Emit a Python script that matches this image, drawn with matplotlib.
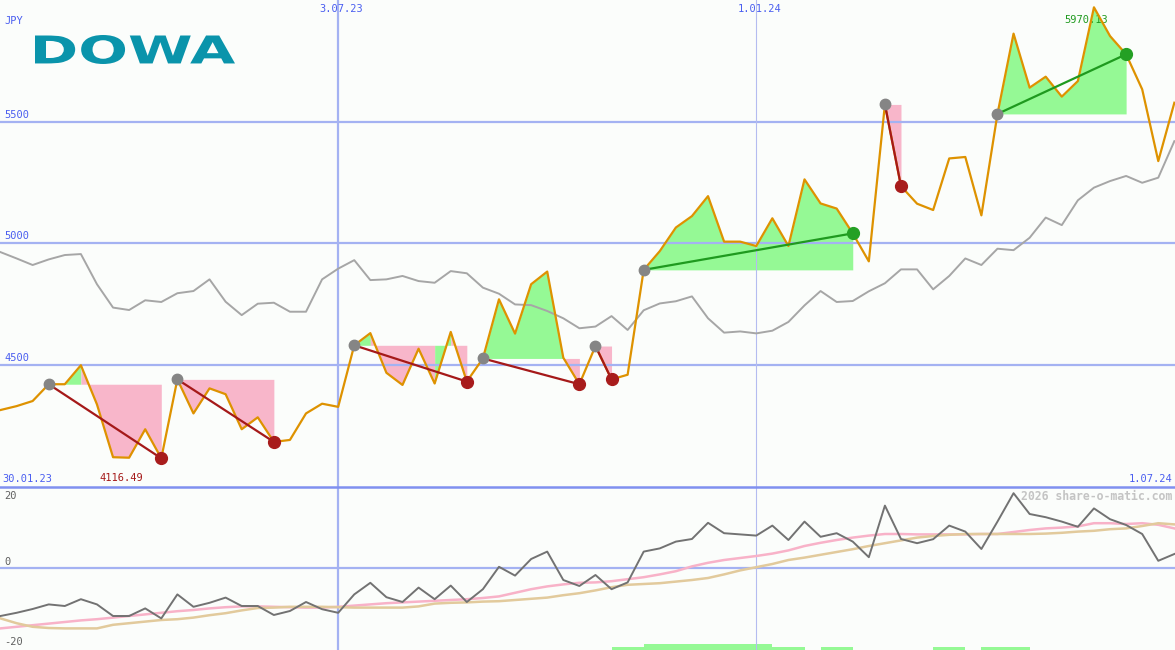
import matplotlib
matplotlib.use("Agg")
import matplotlib.pyplot as plt
import matplotlib.transforms as mtransforms
from matplotlib.lines import Line2D
from matplotlib.patches import PathPatch
from matplotlib.textpath import TextPath
from matplotlib.font_manager import FontProperties
import numpy as np

# weekly closes, first week = 6.02.23, last week = 1.07.24
price = [4315, 4331, 4352, 4421, 4421, 4499, 4338, 4121, 4119, 4236,
         4116.49, 4441, 4301, 4404, 4380, 4236, 4285, 4184, 4192, 4301,
         4341, 4328, 4581, 4631, 4468, 4418, 4567, 4424, 4636, 4432,
         4527, 4770, 4629, 4832, 4884, 4530, 4421, 4578, 4441, 4460,
         4891, 4968, 5065, 5112, 5194, 5007, 5007, 4989, 5103, 4989,
         5263, 5164, 5143, 5041, 4926, 5571, 5235, 5163, 5137, 5349,
         5355, 5115, 5532, 5862, 5640, 5685, 5603, 5667, 5970.13, 5852,
         5777, 5633, 5338, 5578]

# comparison index, scaled to the price
bench = [4964, 4938, 4911, 4934, 4952, 4956, 4832, 4736, 4726, 4766,
         4759, 4795, 4804, 4852, 4760, 4705, 4752, 4756, 4719, 4719,
         4852, 4896, 4931, 4849, 4852, 4866, 4845, 4838, 4886, 4877,
         4818, 4793, 4749, 4746, 4722, 4692, 4651, 4658, 4701, 4644,
         4725, 4753, 4762, 4782, 4692, 4633, 4638, 4630, 4641, 4677,
         4745, 4804, 4759, 4763, 4803, 4836, 4893, 4893, 4811, 4866,
         4938, 4911, 4978, 4972, 5023, 5106, 5075, 5177, 5229, 5256,
         5277, 5249, 5270, 5420]

# lower panel
momentum = [-12, -11.2, -10.25, -9.1, -9.5, -7.8, -9.1, -12, -12, -10.1,
            -12.6, -6.6, -9.7, -8.7, -7.4, -9.5, -9.5, -11.75, -10.75, -8.5,
            -10.3, -11.2, -6.6, -3.7, -7.3, -8.5, -4.9, -7.8, -4.4, -8.5,
            -5.3, 0.3, -1.9, 2.25, 4.1, -3, -4.5, -1.75, -5.3, -3.6,
            4.1, 4.9, 6.6, 7.25, 11.3, 8.7, 8.4, 8.1, 10.6, 7,
            11.6, 7.8, 8.7, 6.6, 2.7, 15.6, 7.25, 6.2, 7.2, 10.6,
            9.1, 4.75, 11.6, 18.7, 13.5, 12.7, 11.6, 10.3, 14.9, 12.2,
            10.75, 8.5, 1.8, 3.5]
avg_fast = [-15.1, -14.7, -14.3, -13.9, -13.5, -13.1, -12.8, -12.4, -12.0, -11.6,
            -11.2, -10.8, -10.5, -10.1, -9.8, -9.6, -9.6, -9.7, -9.8, -9.9,
            -9.9, -9.7, -9.4, -9.1, -8.8, -8.6, -8.4, -8.2, -8.0, -7.8,
            -7.5, -7.1, -6.2, -5.3, -4.6, -4.1, -3.7, -3.6, -3.3, -2.8,
            -2.3, -1.6, -0.8, 0.4, 1.3, 2.0, 2.5, 3.0, 3.6, 4.4,
            5.5, 6.3, 7.0, 7.6, 8.1, 8.5, 8.5, 8.4, 8.4, 8.4,
            8.4, 8.5, 8.5, 9.0, 9.5, 9.9, 10.1, 10.4, 11.2, 11.2,
            11.0, 11.2, 10.8, 9.9]
avg_slow = [-12.6, -13.8, -14.7, -15.0, -15.1, -15.1, -15.1, -14.2, -13.8, -13.4,
            -13.0, -12.8, -12.4, -11.8, -11.3, -10.6, -10.0, -9.9, -9.7, -9.7,
            -9.7, -9.8, -9.9, -9.9, -9.9, -9.9, -9.6, -8.9, -8.7, -8.6,
            -8.4, -8.3, -8.0, -7.7, -7.4, -6.8, -6.3, -5.6, -4.8, -4.2,
            -4.0, -3.8, -3.4, -3.0, -2.5, -1.6, -0.6, 0.2, 1.0, 2.0,
            2.6, 3.3, 4.0, 4.7, 5.5, 6.2, 6.9, 7.6, 8.0, 8.3,
            8.5, 8.5, 8.5, 8.5, 8.5, 8.6, 8.8, 9.1, 9.3, 9.7,
            9.9, 10.5, 11.2, 10.9]

# signal strength bars (week index, level)
bar_weeks = [38, 39, 40, 41, 42, 43, 44, 45, 46, 47, 48, 49, 51, 52, 58, 59, 61, 62, 63]
bar_levels = [1, 1, 2, 2, 2, 2, 2, 2, 2, 2, 1, 1, 1, 1, 1, 1, 1, 1, 1]

# trend phases: start week, end week
trend_start = [3, 11, 22, 30, 37, 40, 55, 62]
trend_end = [10, 17, 29, 36, 38, 53, 56, 70]

price_grid = [4500, 5000, 5500]
month_lines = [21, 47]
month_labels = ["3.07.23", "1.01.24"]
first_label = "30.01.23"
last_label = "1.07.24"

bg = "#fbfdfb"
gridc = "#a4b2f2"
textc = "#4a5ef0"
orange = "#de9200"
pink = "#f8b6ca"
lgreen = "#95f995"
dred = "#a51919"
dgreen = "#1f9a1f"
mono = "DejaVu Sans Mono"

x = np.arange(len(price))
p = np.array(price)

fig = plt.figure(figsize=(11.75, 6.5), dpi=100)
fig.patch.set_facecolor(bg)
ax = fig.add_axes([0, 163 / 650, 1, 487 / 650])
ax2 = fig.add_axes([0, 0, 1, 163 / 650])
for a in (ax, ax2):
    a.set_axis_off()
    a.set_xlim(-0.03, 73.04)
ax.set_ylim(3998.6, 6000.2)
ax2.set_ylim(-20.5, 20.25)

# grid
for lvl in price_grid:
    ax.axhline(lvl, color=gridc, lw=1.6, zorder=2)
    ax.text(0.004, lvl + 8, str(lvl), transform=ax.get_yaxis_transform(),
            color=textc, fontsize=7.5, family=mono, va="bottom", ha="left")
ax2.axhline(0, color=gridc, lw=1.6, zorder=2)
for i, m in enumerate(month_lines):
    w = 1.6 if i == 0 else 0.8
    c = gridc if i == 0 else "#b4bcf0"
    ax.axvline(m, color=c, lw=w, zorder=2)
    ax2.axvline(m, color=c, lw=w, zorder=2)
    ax.annotate(month_labels[i], xy=(m, 1), xycoords=ax.get_xaxis_transform(),
                xytext=(2.2, -6.5), textcoords="offset points", ha="center", va="center",
                color=textc, fontsize=7.5, family=mono)
fig.add_artist(Line2D([0, 1], [163.5 / 650, 163.5 / 650], transform=fig.transFigure,
                      color="#8090f0", lw=1.8))

ax.text(0.004, 1 - 21 / 487, "JPY", transform=ax.transAxes, color=textc,
        fontsize=7.5, family=mono, va="center")
ax.text(0.002, 8 / 487, first_label, transform=ax.transAxes, color=textc,
        fontsize=7.5, family=mono, va="center")
ax.text(0.9975, 8 / 487, last_label, transform=ax.transAxes, color=textc,
        fontsize=7.5, family=mono, va="center", ha="right")

# trend fills, colour per week from where the week closes
for s, e in zip(trend_start, trend_end):
    level = p[s]
    cols = [lgreen if p[j + 1] >= level else pink for j in range(s, e)]
    j = s
    while j < e:
        k = j
        while k + 1 < e and cols[k + 1 - s] == cols[j - s]:
            k += 1
        ax.fill_between(x[j:k + 2], p[j:k + 2], level, color=cols[j - s], lw=0, zorder=1)
        j = k + 1

ax.plot(x, bench, color="#a6a6a6", lw=1.4, zorder=3)
ax.plot(x, p, color=orange, lw=1.6, zorder=4)

for s, e in zip(trend_start, trend_end):
    up = p[e] > p[s]
    c = dgreen if up else dred
    ax.plot([x[s], x[e]], [p[s], p[e]], color=c, lw=1.6, zorder=5)
    ax.plot(x[s], p[s], "o", color="#858585", ms=7.5, zorder=6)
    ax.plot(x[e], p[e], "o", color=("#24a024" if up else "#a81c1c"), ms=8.5, zorder=6)

lo = int(np.argmin(p))
hi = int(np.argmax(p))
ax.annotate(f"{p[lo]:.2f}", xy=(x[lo], p[lo]), xytext=(-29, -14.5), textcoords="offset points",
            ha="center", va="center", color=dred, fontsize=7.5, family=mono, zorder=3)
ax.annotate(f"{p[hi]:.2f}", xy=(x[hi], p[hi]), xytext=(-5.5, -9), textcoords="offset points",
            ha="center", va="center", color=dgreen, fontsize=7.5, family=mono, zorder=3)

# lower panel
ax2.bar(bar_weeks, np.array(bar_levels) * 0.78, width=1.0, align="edge", bottom=-20.5,
        color=lgreen, lw=0, zorder=1)
ax2.plot(x, avg_fast, color="#f8b2c8", lw=1.8, zorder=3)
ax2.plot(x, avg_slow, color="#e2ca9c", lw=1.8, zorder=3)
ax2.plot(x, momentum, color="#727272", lw=1.4, zorder=4)
for val, yy in [("20", 1 - 9 / 163), ("0", 1 - 75 / 163), ("-20", 8 / 163)]:
    ax2.text(0.004, yy, val, transform=ax2.transAxes, color="#606060",
             fontsize=7.5, family=mono, va="center")
ax2.text(0.9975, 1 - 9 / 163, "2026 share-o-matic.com", transform=ax2.transAxes,
         color="#c4c4c4", fontsize=8.3, family=mono, weight="bold", va="center", ha="right")

# logo
tp = TextPath((0, 0), "DOWA", size=100, prop=FontProperties(family="DejaVu Sans", weight="bold"))
ext = tp.get_extents()
tr = mtransforms.Affine2D().translate(-ext.x0, -ext.y0).scale(200 / ext.width, 29 / ext.height).translate(35, 650 - 64)
fig.add_artist(PathPatch(tp, transform=tr, color="#0a94ab", lw=0))

fig.savefig("out.png", dpi=100, facecolor=bg)
